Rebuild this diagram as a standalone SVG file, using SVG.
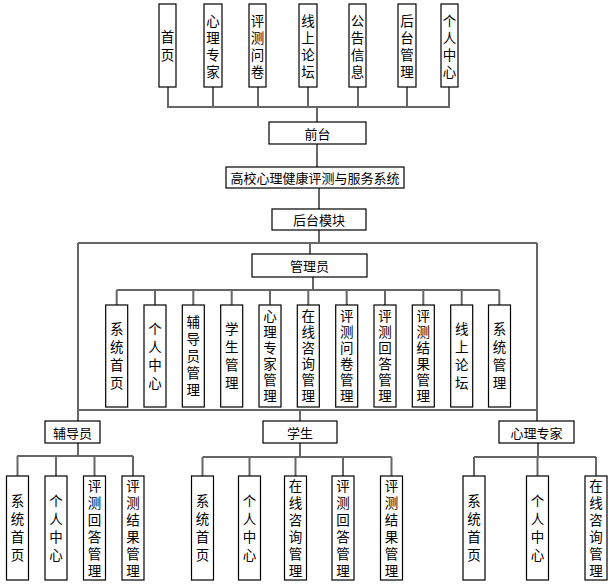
<svg xmlns="http://www.w3.org/2000/svg" width="615" height="585" viewBox="0 0 615 585">
<style>
.b{fill:#fff;stroke:#000;stroke-width:1.2}
.t{font-family:"Noto Sans CJK SC","Noto Sans",sans-serif;font-size:13px;fill:#000;text-anchor:middle;dominant-baseline:central}
.v{font-family:"Noto Sans CJK SC","Noto Sans",sans-serif;font-size:13.5px;fill:#000;text-anchor:middle;writing-mode:vertical-rl}
.s4{letter-spacing:4.5px}
.s5{letter-spacing:3.5px}
.s6{letter-spacing:2.5px}
.k6{letter-spacing:3.5px}
.c{fill:none;stroke:#666;stroke-width:2}
</style>
<rect width="615" height="585" fill="#fff"/>
<g id="connectors" class="c">
<path d="M168 87V107M213 87V107M258 87V107M308 87V107M358 87V107M407 87V107M449 87V107M167 107H450M317 107V122"/>
<path d="M317 144V167M319 188V209M319 230V243M78 243H537M310 243V254"/>
<path d="M313 277V290M116.7 290H499.3M116.7 290V305M155 290V305M193.3 290V305M231.7 290V305M270 290V305M308.3 290V305M346.7 290V305M385 290V305M423.3 290V305M461.7 290V305M499.3 290V305"/>
<path d="M78 243V421M537 243V421M78 410H537M300 410V421"/>
<path d="M78 443V456M17 456H133M17.5 456V476M56 456V476M94.5 456V476M133 456V476"/>
<path d="M300 443V457M202.5 457H391.5M202.5 457V476M249.5 457V476M295.5 457V476M343 457V476M391.5 457V476"/>
<path d="M538 443V457M474 457H596M474 457V476M537.5 457V476M596 457V476"/>
</g>
<g id="n_shouye"><rect class="b" x="159" y="4" width="17" height="83"/><text class="v s4" x="167.5" y="48.2">首页</text></g>
<g id="n_xinlizhuanjia"><rect class="b" x="204" y="4" width="18" height="83"/><text class="v" style="letter-spacing:3.5px" x="213" y="48.2">心理专家</text></g>
<g id="n_pingcewenjuan"><rect class="b" x="249" y="4" width="17" height="83"/><text class="v" style="letter-spacing:3.5px" x="257.5" y="48.2">评测问卷</text></g>
<g id="n_xianshangluntan"><rect class="b" x="299" y="4" width="18" height="83"/><text class="v" style="letter-spacing:3.5px" x="308" y="48.2">线上论坛</text></g>
<g id="n_gonggaoxinxi"><rect class="b" x="349" y="4" width="17" height="83"/><text class="v" style="letter-spacing:3.5px" x="357.5" y="48.2">公告信息</text></g>
<g id="n_houtaiguanli"><rect class="b" x="398" y="4" width="18" height="83"/><text class="v" style="letter-spacing:3.5px" x="407" y="48.2">后台管理</text></g>
<g id="n_gerenzhongxin"><rect class="b" x="441" y="4" width="17" height="83"/><text class="v" style="letter-spacing:3.5px" x="449.5" y="48.2">个人中心</text></g>
<g id="n_qiantai"><rect class="b" x="269" y="122" width="97" height="22"/><text class="t" x="317.5" y="133">前台</text></g>
<g id="n_system"><rect class="b" x="226" y="167" width="178" height="21"/><text class="t" x="315" y="177.5">高校心理健康评测与服务系统</text></g>
<g id="n_houtaimokuai"><rect class="b" x="272" y="209" width="94" height="21"/><text class="t" x="319" y="219.5">后台模块</text></g>
<g id="n_guanliyuan"><rect class="b" x="252" y="254" width="115" height="23"/><text class="t" x="309.5" y="265.5">管理员</text></g>
<g id="a1"><rect class="b" x="105.7" y="305" width="22" height="102"/><text class="v s4" x="116.7" y="358.2">系统首页</text></g>
<g id="a2"><rect class="b" x="144" y="305" width="22" height="102"/><text class="v s4" x="155" y="358.2">个人中心</text></g>
<g id="a3"><rect class="b" x="182.3" y="305" width="22" height="102"/><text class="v s5" x="193.3" y="357.7">辅导员管理</text></g>
<g id="a4"><rect class="b" x="220.7" y="305" width="22" height="102"/><text class="v s4" x="231.7" y="358.2">学生管理</text></g>
<g id="a5"><rect class="b" x="259" y="305" width="22" height="102"/><text class="v s6" x="270" y="357.2">心理专家管理</text></g>
<g id="a6"><rect class="b" x="297.3" y="305" width="22" height="102"/><text class="v s6" x="308.3" y="357.2">在线咨询管理</text></g>
<g id="a7"><rect class="b" x="335.7" y="305" width="22" height="102"/><text class="v s6" x="346.7" y="357.2">评测问卷管理</text></g>
<g id="a8"><rect class="b" x="374" y="305" width="22" height="102"/><text class="v s6" x="385" y="357.2">评测回答管理</text></g>
<g id="a9"><rect class="b" x="412.3" y="305" width="22" height="102"/><text class="v s6" x="423.3" y="357.2">评测结果管理</text></g>
<g id="a10"><rect class="b" x="450.7" y="305" width="22" height="102"/><text class="v s4" x="461.7" y="358.2">线上论坛</text></g>
<g id="a11"><rect class="b" x="488.5" y="305" width="22" height="102"/><text class="v s4" x="499.5" y="358.2">系统管理</text></g>
<g id="n_fudaoyuan"><rect class="b" x="45" y="421" width="55" height="22"/><text class="t" x="72.5" y="432">辅导员</text></g>
<g id="n_xuesheng"><rect class="b" x="263" y="421" width="74" height="22"/><text class="t" x="300" y="432">学生</text></g>
<g id="n_xinlizhuanjia2"><rect class="b" x="499" y="421" width="75" height="22"/><text class="t" x="536.5" y="432">心理专家</text></g>
<g id="f1"><rect class="b" x="6.5" y="476" width="22" height="104"/><text class="v s4" x="17.5" y="529.7">系统首页</text></g>
<g id="f2"><rect class="b" x="45" y="476" width="22" height="104"/><text class="v s4" x="56" y="529.7">个人中心</text></g>
<g id="f3"><rect class="b" x="83.5" y="476" width="22" height="104"/><text class="v k6" x="94.5" y="529.7">评测回答管理</text></g>
<g id="f4"><rect class="b" x="122" y="476" width="22" height="104"/><text class="v k6" x="133" y="529.7">评测结果管理</text></g>
<g id="s1"><rect class="b" x="191.5" y="476" width="22" height="104"/><text class="v s4" x="202.5" y="529.7">系统首页</text></g>
<g id="s2"><rect class="b" x="238.5" y="476" width="22" height="104"/><text class="v s4" x="249.5" y="529.7">个人中心</text></g>
<g id="s3"><rect class="b" x="284.5" y="476" width="22" height="104"/><text class="v k6" x="295.5" y="529.7">在线咨询管理</text></g>
<g id="s4"><rect class="b" x="332" y="476" width="22" height="104"/><text class="v k6" x="343" y="529.7">评测回答管理</text></g>
<g id="s5"><rect class="b" x="380.5" y="476" width="22" height="104"/><text class="v k6" x="391.5" y="529.7">评测结果管理</text></g>
<g id="x1"><rect class="b" x="463" y="476" width="22" height="104"/><text class="v s4" x="474" y="529.7">系统首页</text></g>
<g id="x2"><rect class="b" x="526.5" y="476" width="22" height="104"/><text class="v s4" x="537.5" y="529.7">个人中心</text></g>
<g id="x3"><rect class="b" x="585" y="476" width="22" height="104"/><text class="v k6" x="596" y="529.7">在线咨询管理</text></g>
</svg>
